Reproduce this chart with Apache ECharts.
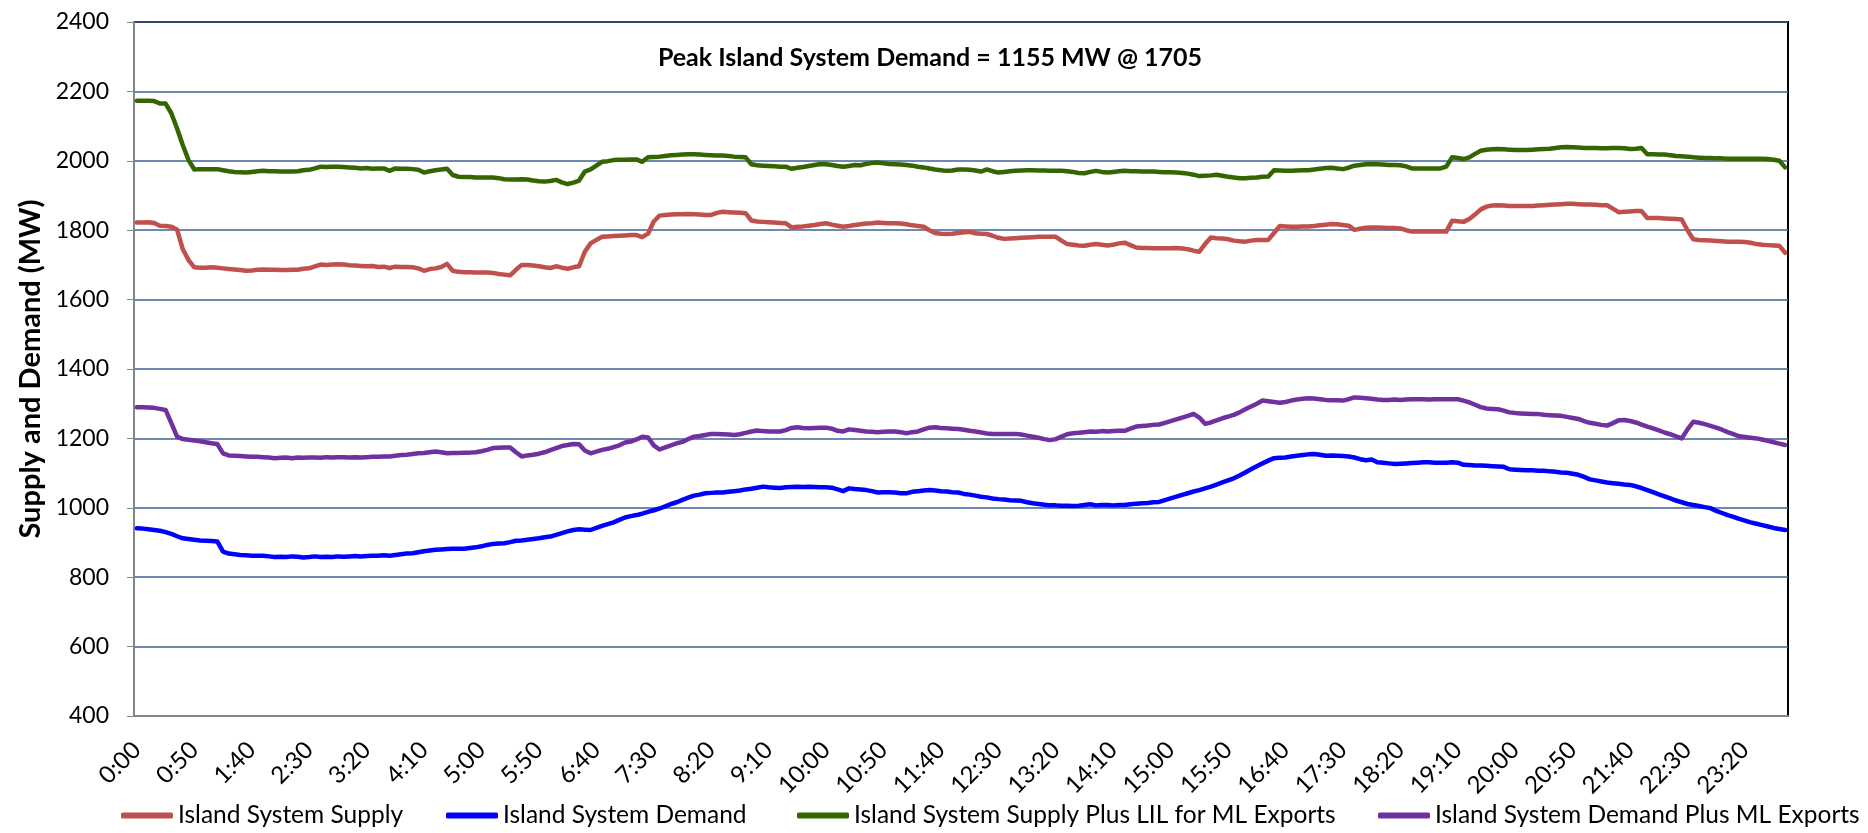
<!DOCTYPE html>
<html>
<head>
<meta charset="utf-8">
<title>Island System Supply and Demand</title>
<script src="https://cdn.jsdelivr.net/npm/echarts@6/dist/echarts.min.js"></script>
<style>
  html, body { margin: 0; padding: 0; background: #fff; }
  #main { width: 1868px; height: 833px; }
</style>
</head>
<body>
<div id="main"></div>
<script>
// 5-minute intervals, 0:00 .. 23:55
var times = [];
for (var h = 0; h < 24; h++) {
  for (var m = 0; m < 60; m += 5) {
    times.push(h + ':' + (m < 10 ? '0' + m : m));
  }
}

var titleText = 'Peak Island System Demand = 1155 MW @ 1705';
var seriesNames = [
  'Island System Supply',
  'Island System Demand',
  'Island System Supply Plus LIL for ML Exports',
  'Island System Demand Plus ML Exports'
];
var seriesColors = ['#C0504D', '#0000FF', '#336600', '#7030A0'];

// Island System Supply (MW)
var supply = [
  1822, 1822, 1823, 1821, 1813, 1812, 1810, 1802, 1745, 1714, 1693, 1692,
  1692, 1693, 1692, 1690, 1688, 1687, 1685, 1683, 1684, 1686, 1687, 1686,
  1686, 1685, 1685, 1686, 1686, 1689, 1690, 1696, 1701, 1700, 1701, 1702,
  1701, 1699, 1698, 1697, 1696, 1697, 1694, 1695, 1691, 1695, 1694, 1694,
  1693, 1690, 1683, 1688, 1690, 1694, 1703, 1683, 1680, 1679, 1679, 1678,
  1678, 1678, 1677, 1674, 1672, 1670, 1686, 1700, 1700, 1698, 1696, 1693,
  1691, 1696, 1692, 1689, 1693, 1696, 1738, 1762, 1772, 1781, 1782, 1783,
  1784, 1785, 1786, 1786, 1780, 1790, 1825, 1842, 1844, 1845, 1846, 1846,
  1847, 1846, 1845, 1844, 1844, 1850, 1853, 1852, 1851, 1850, 1849, 1828,
  1825, 1824, 1823, 1822, 1821, 1820, 1808, 1810, 1811, 1813, 1815, 1818,
  1820, 1816, 1813, 1810, 1812, 1815, 1817, 1819, 1820, 1822, 1821, 1820,
  1820, 1819, 1817, 1814, 1812, 1810, 1800, 1792, 1790, 1789, 1790, 1792,
  1794, 1795, 1791, 1790, 1789, 1784, 1778, 1775, 1776, 1777, 1778, 1779,
  1780, 1781, 1781, 1781, 1781, 1770, 1760, 1758, 1756, 1755, 1758, 1760,
  1758, 1756, 1758, 1762, 1764, 1757, 1750, 1749, 1749, 1748, 1748, 1748,
  1748, 1749, 1747, 1745, 1741, 1738, 1760, 1779, 1777, 1776, 1774, 1770,
  1768, 1767, 1770, 1772, 1772, 1772, 1792, 1812, 1811, 1810, 1810, 1811,
  1811, 1812, 1814, 1816, 1818, 1817, 1815, 1813, 1801, 1804, 1807, 1808,
  1808, 1807, 1806, 1806, 1805, 1800, 1796, 1796, 1796, 1796, 1796, 1796,
  1796, 1827, 1826, 1824, 1832, 1845, 1860, 1868, 1871, 1872, 1871, 1870,
  1870, 1870, 1870, 1870, 1871, 1872, 1873, 1874, 1875, 1876, 1876, 1875,
  1874, 1874, 1873, 1872, 1872, 1862, 1852, 1853, 1854, 1855, 1855, 1835,
  1835, 1835, 1834, 1833, 1832, 1831, 1800, 1774, 1772, 1771, 1770, 1769,
  1768, 1767, 1767, 1767, 1766, 1764, 1760, 1758, 1757, 1756, 1755, 1735
];

// Island System Demand (MW)
var demand = [
  941, 940, 938, 936, 934, 930, 925, 918, 912, 910, 908, 906,
  905, 904, 903, 874, 868, 866, 864, 863, 862, 862, 862, 860,
  858, 859, 858, 860, 859, 857, 858, 860, 858, 859, 858, 860,
  859, 860, 861, 860, 861, 862, 862, 863, 862, 864, 866, 868,
  869, 872, 875, 877, 879, 880, 881, 882, 882, 882, 884, 886,
  889, 893, 896, 897, 898, 901, 905, 906, 908, 910, 912, 915,
  917, 922, 927, 932, 936, 938, 937, 936, 942, 948, 953, 958,
  965, 972, 976, 979, 983, 988, 993, 998, 1004, 1011, 1016, 1023,
  1029, 1035, 1038, 1042, 1043, 1044, 1044, 1046, 1048, 1050, 1053, 1055,
  1058, 1061, 1059, 1058, 1057, 1059, 1060, 1061, 1060, 1061, 1060, 1059,
  1059, 1058, 1053, 1048, 1056, 1054, 1053, 1051, 1048, 1044, 1045, 1045,
  1044, 1042, 1042, 1046, 1048, 1050, 1051, 1050, 1048, 1047, 1045, 1044,
  1040, 1038, 1035, 1032, 1030, 1027, 1025, 1024, 1022, 1021, 1020, 1016,
  1013, 1011, 1009, 1007, 1007, 1006, 1006, 1005, 1006, 1008, 1010, 1007,
  1008, 1008, 1007, 1008, 1008, 1010, 1012, 1013, 1014, 1016, 1017, 1022,
  1027, 1032, 1037, 1042, 1047, 1051, 1056, 1061, 1067, 1073, 1079, 1085,
  1093, 1102, 1111, 1120, 1128, 1136, 1143, 1144, 1145, 1148, 1150, 1152,
  1154, 1155, 1153, 1150, 1151, 1150, 1149, 1148, 1145, 1140, 1137, 1139,
  1131, 1130, 1128, 1126, 1127, 1128, 1129, 1130, 1131, 1131, 1130, 1130,
  1130, 1131, 1130, 1124, 1123, 1122, 1122, 1121, 1120, 1119, 1118, 1111,
  1110, 1109, 1108, 1108, 1107, 1107, 1105, 1104, 1102, 1101, 1098, 1095,
  1089, 1082, 1079, 1076, 1073, 1071, 1069, 1067, 1066, 1062, 1057, 1051,
  1045, 1039, 1033, 1027, 1021, 1016, 1011, 1008, 1005, 1002, 999, 991,
  985, 979, 974, 968, 963, 958, 954, 950, 946, 942, 939, 936
];

// Island System Supply Plus LIL for ML Exports (MW)
var supplyPlusLil = [
  2173, 2173, 2173, 2172, 2165, 2165, 2137, 2093, 2045, 2002, 1975, 1976,
  1976, 1976, 1976, 1973, 1970, 1968, 1967, 1966, 1968, 1970, 1971, 1970,
  1970, 1969, 1969, 1969, 1970, 1973, 1974, 1978, 1983, 1982, 1983, 1983,
  1982, 1981, 1980, 1978, 1979, 1977, 1978, 1978, 1971, 1978, 1977, 1977,
  1976, 1974, 1966, 1970, 1973, 1975, 1977, 1959, 1954, 1953, 1953, 1952,
  1952, 1952, 1952, 1950, 1947, 1946, 1946, 1947, 1946, 1943, 1941, 1940,
  1942, 1945, 1938, 1933, 1937, 1943, 1969, 1975, 1986, 1997, 1999, 2002,
  2003, 2003, 2004, 2004, 1997, 2010, 2011, 2012, 2014, 2016, 2017, 2018,
  2019, 2019, 2018, 2017, 2016, 2015, 2015, 2014, 2012, 2011, 2010, 1990,
  1987, 1986, 1985, 1984, 1983, 1983, 1977, 1980, 1982, 1985, 1988, 1991,
  1990, 1988, 1985, 1983, 1985, 1988, 1987, 1991, 1994, 1995, 1993, 1991,
  1990, 1989, 1988, 1986, 1983, 1981, 1978, 1975, 1973, 1971, 1972, 1975,
  1975, 1974, 1972, 1969, 1975, 1970, 1966, 1968, 1970, 1971, 1972, 1973,
  1973, 1972, 1972, 1971, 1971, 1971, 1970, 1968, 1965, 1964, 1968, 1971,
  1968, 1966, 1968, 1970, 1971, 1970, 1970, 1969, 1969, 1969, 1968, 1967,
  1967, 1966, 1965, 1963, 1960, 1956, 1957, 1958, 1960, 1957, 1954, 1952,
  1950, 1950, 1951, 1952, 1954, 1955, 1973, 1972, 1971, 1971, 1972, 1973,
  1973, 1975, 1977, 1979, 1980, 1978, 1976, 1980, 1986, 1988, 1990, 1991,
  1990, 1989, 1988, 1988, 1987, 1984, 1978, 1978, 1978, 1978, 1978, 1978,
  1983, 2010, 2008, 2005, 2010, 2020, 2029, 2032, 2033, 2034, 2033, 2032,
  2031, 2031, 2031, 2032, 2033, 2034, 2035, 2037, 2039, 2040, 2039, 2038,
  2037, 2037, 2037, 2036, 2036, 2037, 2037, 2036, 2034, 2035, 2037, 2019,
  2019, 2018, 2018, 2016, 2014, 2013, 2012, 2010, 2009, 2008, 2008, 2007,
  2007, 2006, 2006, 2006, 2006, 2006, 2006, 2006, 2005, 2003, 2000, 1981
];

// Island System Demand Plus ML Exports (MW)
var demandPlusMl = [
  1290, 1290, 1289, 1288, 1285, 1282, 1244, 1205, 1198, 1196, 1194, 1192,
  1189, 1186, 1184, 1157, 1151, 1150, 1149, 1148, 1147, 1147, 1146, 1145,
  1143, 1144, 1145, 1143, 1145, 1144, 1145, 1145, 1144, 1146, 1145, 1146,
  1146, 1145, 1146, 1145, 1146, 1147, 1147, 1148, 1148, 1150, 1152, 1153,
  1155, 1157, 1158, 1160, 1162, 1160, 1157, 1158, 1158, 1159, 1159, 1160,
  1163, 1167, 1172, 1173, 1174, 1174, 1160, 1148, 1151, 1153, 1156, 1160,
  1166, 1172, 1178, 1181, 1184, 1183, 1165, 1157, 1162, 1167, 1170, 1175,
  1180, 1188, 1191, 1197, 1205, 1203, 1180, 1168, 1174, 1180, 1186, 1190,
  1198, 1205, 1207, 1210, 1213, 1213, 1212, 1211, 1210, 1212, 1216, 1220,
  1223, 1221, 1220, 1220, 1220, 1224, 1230, 1232, 1230, 1229, 1230, 1231,
  1231, 1228, 1222, 1220, 1226, 1224, 1222, 1220, 1219, 1218, 1219, 1220,
  1220, 1218, 1215, 1218, 1220, 1226, 1231, 1232, 1230, 1229, 1228, 1227,
  1225, 1222, 1220, 1217, 1214, 1213, 1213, 1213, 1213, 1213, 1211, 1208,
  1205, 1202, 1198, 1195, 1198, 1205, 1212, 1215, 1216, 1218, 1220, 1219,
  1221, 1220, 1221, 1222, 1222, 1228, 1234, 1236, 1237, 1239, 1240, 1245,
  1250, 1255, 1260, 1265, 1271, 1260, 1242, 1246, 1252, 1258, 1263, 1268,
  1275, 1284, 1292, 1300, 1309, 1307, 1305, 1303, 1305, 1309, 1312, 1314,
  1316, 1315, 1313, 1311, 1310, 1310, 1309, 1313, 1318, 1317, 1316, 1314,
  1312, 1311, 1311, 1312, 1311, 1312, 1313, 1313, 1313, 1312, 1313, 1313,
  1313, 1313, 1313, 1309, 1304, 1297, 1290, 1286, 1285, 1284, 1280, 1275,
  1273, 1272, 1271, 1270, 1270, 1268, 1267, 1266, 1265, 1262, 1259, 1256,
  1250, 1245, 1242, 1239, 1237, 1244, 1252, 1253, 1250, 1246, 1240, 1234,
  1229, 1223, 1217, 1212, 1206, 1200, 1226, 1248, 1245, 1241, 1236, 1231,
  1225, 1218, 1212, 1206, 1204, 1202, 1200, 1197, 1193, 1189, 1185, 1181
];

var seriesData = [supply, demand, supplyPlusLil, demandPlusMl];

var fontName = 'Lato';
var dom = document.getElementById('main');
var myChart = echarts.init(dom);

var series = [];
for (var s = 0; s < seriesNames.length; s++) {
  series.push({
    name: seriesNames[s],
    type: 'line',
    data: seriesData[s],
    symbol: 'none',
    smooth: false,
    lineStyle: { color: seriesColors[s], width: 4.5, cap: 'round', join: 'round' },
    itemStyle: { color: seriesColors[s] }
  });
}

// one legend per item, placed like the original
var legendLefts = [116, 441, 792, 1373];
var legends = [];
for (var k = 0; k < seriesNames.length; k++) {
  legends.push({
    left: legendLefts[k],
    top: 798,
    icon: 'roundRect',
    itemWidth: 52,
    itemHeight: 6,
    itemGap: 0,
    data: [seriesNames[k]],
    textStyle: { fontFamily: fontName, fontSize: 24.5, color: '#000' }
  });
}

var option = {
  animation: false,
  backgroundColor: '#fff',
  title: {
    text: titleText,
    left: 925,
    top: 40,
    textAlign: 'center',
    textStyle: { fontFamily: fontName, fontSize: 25, fontWeight: 'bold', color: '#000' }
  },
  legend: legends,
  grid: {
    left: 134,
    right: 80,
    top: 22,
    bottom: 117,
    show: true,
    borderColor: '#000',
    borderWidth: 2,
    backgroundColor: '#fff'
  },
  xAxis: {
    type: 'category',
    data: times,
    boundaryGap: true,
    axisLine: { lineStyle: { color: '#868686', width: 2 } },
    axisTick: { interval: 0, length: 7, lineStyle: { color: '#868686', width: 1 } },
    axisLabel: {
      interval: 9,
      rotate: 45,
      margin: 30,
      fontFamily: fontName,
      fontSize: 24,
      color: '#000'
    },
    splitLine: { show: false }
  },
  yAxis: {
    type: 'value',
    min: 400,
    max: 2400,
    interval: 200,
    name: 'Supply and Demand (MW)',
    nameLocation: 'middle',
    nameGap: 89,
    nameTextStyle: { fontFamily: fontName, fontSize: 29, fontWeight: 'bold', color: '#000' },
    axisLine: { show: true, lineStyle: { color: '#868686', width: 2 } },
    axisTick: { show: true, length: 7, lineStyle: { color: '#868686', width: 1 } },
    axisLabel: {
      margin: 25,
      fontFamily: fontName,
      fontSize: 23,
      color: '#000',
      formatter: function (v) { return String(v); }
    },
    splitLine: { lineStyle: { color: '#3F6395', width: 1.5 } }
  },
  series: series
};

myChart.setOption(option);
</script>
</body>
</html>
